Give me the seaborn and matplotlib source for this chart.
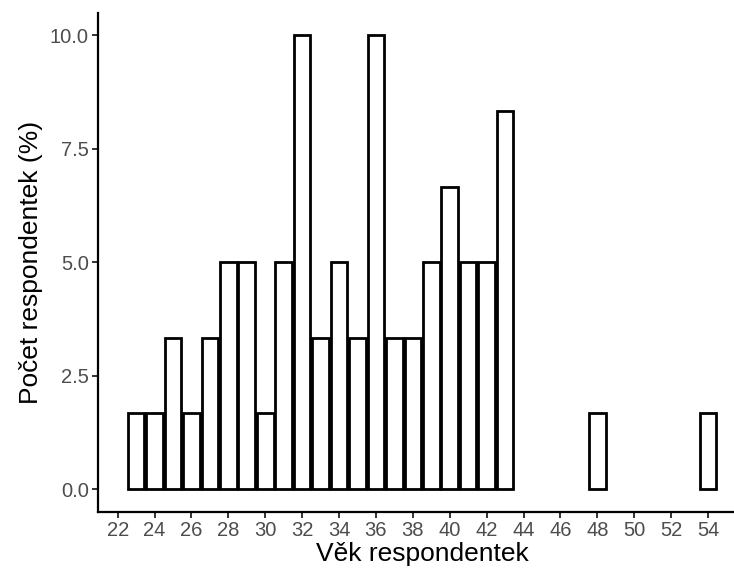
import matplotlib
matplotlib.use("Agg")
import matplotlib.pyplot as plt
import seaborn as sns
import pandas as pd

# age of respondents and share of respondents (%), n = 60
ages = [23, 24, 25, 26, 27, 28, 29, 30, 31, 32, 33, 34, 35, 36, 37, 38, 39, 40, 41, 42, 43, 48, 54]
counts = [1, 1, 2, 1, 2, 3, 3, 1, 3, 6, 2, 3, 2, 6, 2, 2, 3, 4, 3, 3, 5, 1, 1]
percent = [c / 60 * 100 for c in counts]
x_ticks = list(range(22, 56, 2))
y_ticks = [0.0, 2.5, 5.0, 7.5, 10.0]

df = pd.DataFrame({"vek": ages, "procento": percent})

sns.set_style("ticks")
plt.rcParams["font.family"] = ["Liberation Sans", "DejaVu Sans"]

fig = plt.figure(figsize=(7.34, 5.78), dpi=100)
ax = fig.add_axes([0.134, 0.1147, 0.882, 0.8633])

sns.barplot(data=df, x="vek", y="procento", native_scale=True, width=0.9,
            color="white", edgecolor="black", linewidth=2.0, ax=ax, errorbar=None)

ax.set_xlim(20.955, 56.045)
ax.set_ylim(-0.5, 10.5)
ax.set_xticks(x_ticks)
ax.set_xticklabels([str(t) for t in x_ticks])
ax.set_yticks(y_ticks)
ax.set_yticklabels([f"{t:.1f}" for t in y_ticks])

ax.set_xlabel("Věk respondentek", fontsize=19, color="black", labelpad=1)
ax.set_ylabel("Počet respondentek (%)", fontsize=19, color="black", labelpad=5)
ax.tick_params(axis="both", labelsize=14.5, labelcolor="#4D4D4D", color="#333333",
               length=4, width=1.4, pad=3)

sns.despine(ax=ax)
for side in ["left", "bottom"]:
    ax.spines[side].set_linewidth(1.6)
    ax.spines[side].set_color("black")

fig.savefig("out.png", dpi=100)
